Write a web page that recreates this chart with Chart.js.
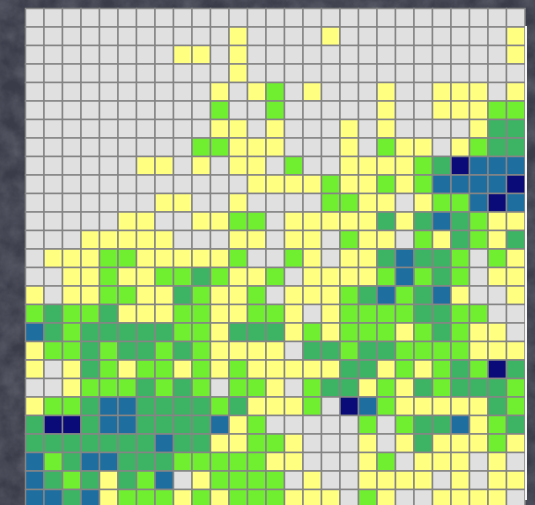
<!DOCTYPE html>
<html><head><meta charset="utf-8">
<style>
html,body{margin:0;padding:0;width:535px;height:505px;overflow:hidden;background:#3d414d;}
#bg{position:absolute;left:0;top:0;width:535px;height:505px;}
#wrap{position:absolute;left:0;top:0;width:535px;height:505px;overflow:hidden;}
canvas{display:block;filter:blur(0.35px);}
#edge{position:absolute;left:525px;top:26px;width:2px;height:474px;background:#f4f4f4;}
</style>
<script src="https://cdn.jsdelivr.net/npm/chart.js@4"></script>
</head><body>
<svg id="bg" width="535" height="505"><filter id="n"><feTurbulence type="fractalNoise" baseFrequency="0.05" numOctaves="4" seed="4"/><feColorMatrix type="matrix" values="0 0 0 0 0.31  0 0 0 0 0.32  0 0 0 0 0.37  0.5 0 0 0 -0.12"/></filter><rect width="535" height="505" fill="#3a3d49"/><rect width="535" height="505" filter="url(#n)"/></svg>
<div id="wrap"><canvas id="c" width="535" height="508"></canvas></div>
<div id="edge"></div>
<script>
const levelColors = ['#e0e0e0','#ffff80','#70ee30','#3cb464','#1f6ea0','#0a0a78'];
const rows = [
'000000000000000000000000000',
'000000000001000010000000001',
'000000001101000000000000001',
'000000000001000000000000000',
'000000000010120100010011101',
'000000000020020000010011122',
'000000000011010001010000133',
'000000000221110001021101233',
'000000110101102001111235444',
'000000000000111121121244445',
'000000011001000022110122454',
'000001100112201111131343211',
'000111110001101102110213213',
'011122111112002101134332021',
'001121122321120111124232011',
'101122113211201112342341001',
'232231112211221012222332200',
'432333332213331212221232110',
'122323323211110332332222111',
'101321221212111113312123253',
'001222323202210233121323332',
'122344333323111205421111132',
'355344333341200000202334123',
'333333343311221000101311121',
'423443332222211000120111010',
'432313240122220100111101011',
'443412221212221110210011110'
];
const cell = 18.5;
const cells = [];
rows.forEach((r, y) => [...r].forEach((v, x) => cells.push({x: x + 0.5, y: y + 0.5, v: +v})));
new Chart(document.getElementById('c'), {
  type: 'scatter',
  data: { datasets: [{
    data: cells,
    pointStyle: 'rect',
    pointRadius: cell * Math.SQRT1_2,
    pointHoverRadius: cell * Math.SQRT1_2,
    pointBorderWidth: 1.5,
    pointBorderColor: '#858585',
    pointBackgroundColor: c => levelColors[c.raw.v],
    clip: false
  }]},
  options: {
    responsive: false, animation: false, events: [],
    layout: { autoPadding: false, padding: { left: 25.5, top: 8.5, right: 10, bottom: 0 } },
    plugins: { legend: { display: false }, tooltip: { enabled: false } },
    scales: {
      x: { display: false, min: 0, max: 27 },
      y: { display: false, reverse: true, min: 0, max: 27 }
    }
  }
});
</script>
</body></html>
